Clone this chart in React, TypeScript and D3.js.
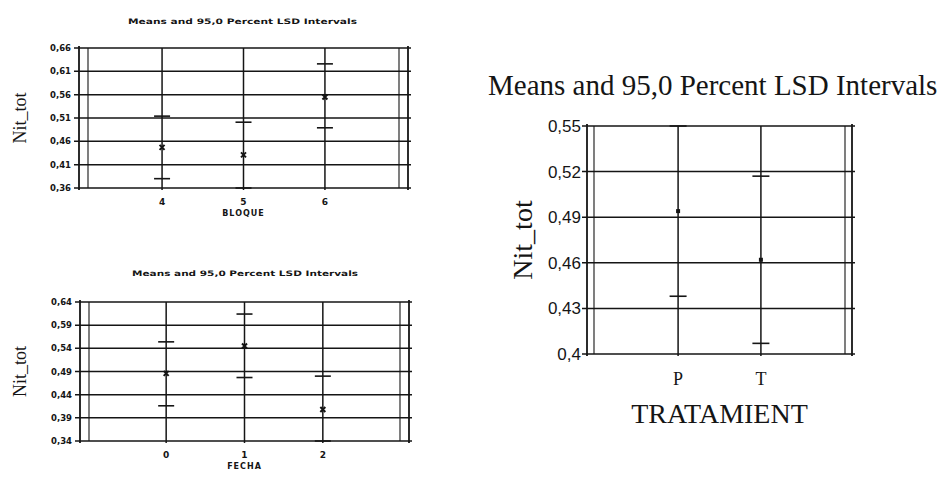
import React from 'react'
import { scaleLinear, scalePoint } from 'd3'

// BLOQUE panel (top left)
const bloqueCats = ['4', '5', '6']
const bloqueMeans = [0.447, 0.431, 0.555]
const bloqueLower = [0.38, 0.36, 0.489]
const bloqueUpper = [0.514, 0.501, 0.626]
const bloqueTicks = [0.36, 0.41, 0.46, 0.51, 0.56, 0.61, 0.66]

// FECHA panel (bottom left)
const fechaCats = ['0', '1', '2']
const fechaMeans = [0.486, 0.545, 0.408]
const fechaLower = [0.416, 0.477, 0.34]
const fechaUpper = [0.554, 0.614, 0.48]
const fechaTicks = [0.34, 0.39, 0.44, 0.49, 0.54, 0.59, 0.64]

// TRATAMIENT panel (right)
const tratCats = ['P', 'T']
const tratMeans = [0.494, 0.462]
const tratLower = [0.438, 0.407]
const tratUpper = [0.55, 0.517]
const tratTicks = [0.4, 0.43, 0.46, 0.49, 0.52, 0.55]

const fmt = (v: number) => String(+v.toFixed(2)).replace('.', ',')

const ink = '#151515'
const serif = "'Liberation Serif', 'Times New Roman', serif"
const sans = "'Liberation Sans', Arial, sans-serif"
const bold = "'DejaVu Sans', sans-serif"

type PanelProps = {
  left: number
  right: number
  top: number
  bottom: number
  cats: string[]
  means: number[]
  lower: number[]
  upper: number[]
  ticks: number[]
  padding: number
  title?: string
  titleX?: number
  titleY?: number
  titleLen?: number
  xTitle: string
  yTitle: string
  small: boolean
}

const Panel = (p: PanelProps) => {
  const y = scaleLinear()
    .domain([p.ticks[0], p.ticks[p.ticks.length - 1]])
    .range([p.bottom, p.top])
  const x = scalePoint<string>().domain(p.cats).range([p.left, p.right]).padding(p.padding)
  const inset = p.small ? 9 : 7
  const cap = p.small ? 8 : 8.5
  const tickFont = p.small
    ? { fontFamily: bold, fontWeight: 700, fontSize: 8.5 }
    : { fontFamily: sans, fontSize: 17 }
  const catFont = p.small
    ? { fontFamily: bold, fontWeight: 700, fontSize: 9 }
    : { fontFamily: serif, fontSize: 18 }
  const midY = (p.top + p.bottom) / 2
  const midX = (p.left + p.right) / 2

  return (
    <g>
      {p.title && (
        <text
          x={p.titleX}
          y={p.titleY}
          textLength={p.titleLen}
          lengthAdjust="spacingAndGlyphs"
          style={{ fontFamily: bold, fontWeight: 700, fontSize: 7.5 }}
          fill={ink}
        >
          {p.title}
        </text>
      )}
      {/* horizontal grid + ticks */}
      {p.ticks.map(t => (
        <g key={t}>
          <line x1={p.left - 5} x2={p.right + 3} y1={y(t)} y2={y(t)} stroke={ink} strokeWidth={1.5} />
          <text
            x={p.small ? p.left - 8 : p.left - 6}
            y={y(t)}
            dy={p.small ? 3 : 6}
            textAnchor="end"
            style={tickFont}
            fill={ink}
          >
            {fmt(t)}
          </text>
        </g>
      ))}
      {/* frame */}
      <line x1={p.left} x2={p.left} y1={p.top - 2} y2={p.bottom + 2} stroke={ink} strokeWidth={1.8} />
      <line x1={p.right} x2={p.right} y1={p.top - 2} y2={p.bottom + 2} stroke={ink} strokeWidth={1.8} />
      <line x1={p.left + inset} x2={p.left + inset} y1={p.top} y2={p.bottom} stroke={ink} strokeWidth={1.1} />
      <line x1={p.right - inset} x2={p.right - inset} y1={p.top} y2={p.bottom} stroke={ink} strokeWidth={1.1} />
      {/* category verticals, intervals, means */}
      {p.cats.map((c, i) => {
        const cx = x(c) as number
        const my = y(p.means[i])
        return (
          <g key={c}>
            <line x1={cx} x2={cx} y1={p.top} y2={p.bottom + 2} stroke={ink} strokeWidth={1.5} />
            <line x1={cx - cap} x2={cx + cap} y1={y(p.upper[i])} y2={y(p.upper[i])} stroke={ink} strokeWidth={1.6} />
            <line x1={cx - cap} x2={cx + cap} y1={y(p.lower[i])} y2={y(p.lower[i])} stroke={ink} strokeWidth={1.6} />
            {p.small ? (
              <path
                d={`M${cx - 2.5},${my - 2.5}L${cx + 2.5},${my + 2.5}M${cx + 2.5},${my - 2.5}L${cx - 2.5},${my + 2.5}`}
                stroke={ink}
                strokeWidth={2}
              />
            ) : (
              <rect x={cx - 2} y={my - 2} width={4} height={4} fill={ink} />
            )}
            <text
              x={cx}
              y={p.small ? p.bottom + 17 : p.bottom + 31}
              textAnchor="middle"
              style={catFont}
              fill={ink}
            >
              {c}
            </text>
          </g>
        )
      })}
      {/* axis titles */}
      <text
        x={midX}
        y={p.small ? p.bottom + 28 : p.bottom + 69}
        textAnchor="middle"
        style={p.small
          ? { fontFamily: bold, fontWeight: 700, fontSize: 8, letterSpacing: 1 }
          : { fontFamily: serif, fontSize: 28 }}
        fill={ink}
      >
        {p.xTitle}
      </text>
      <text
        transform={`translate(${p.small ? 26 : 532},${midY}) rotate(-90)`}
        textAnchor="middle"
        style={{ fontFamily: serif, fontSize: p.small ? 18 : 28 }}
        fill={ink}
      >
        {p.yTitle}
      </text>
    </g>
  )
}

const App = () => (
  <svg
    width={942}
    height={479}
    style={{ position: 'absolute', left: 0, top: 0, background: '#fff' }}
  >
    <rect width={942} height={479} fill="#fff" />
    <Panel
      left={79} right={408} top={48} bottom={188}
      cats={bloqueCats} means={bloqueMeans} lower={bloqueLower} upper={bloqueUpper}
      ticks={bloqueTicks} padding={1.02}
      title="Means and 95,0 Percent LSD Intervals" titleX={128} titleY={24} titleLen={229}
      xTitle="BLOQUE" yTitle="Nit_tot" small
    />
    <Panel
      left={80} right={409} top={302} bottom={441}
      cats={fechaCats} means={fechaMeans} lower={fechaLower} upper={fechaUpper}
      ticks={fechaTicks} padding={1.1}
      title="Means and 95,0 Percent LSD Intervals" titleX={132} titleY={276} titleLen={226}
      xTitle="FECHA" yTitle="Nit_tot" small
    />
    <text x={488} y={95} style={{ fontFamily: serif, fontSize: 29 }} fill={ink}>
      Means and 95,0 Percent LSD Intervals
    </text>
    <Panel
      left={587} right={852} top={126} bottom={354}
      cats={tratCats} means={tratMeans} lower={tratLower} upper={tratUpper}
      ticks={tratTicks} padding={1.1}
      xTitle="TRATAMIENT" yTitle="Nit_tot" small={false}
    />
  </svg>
)

export default App
